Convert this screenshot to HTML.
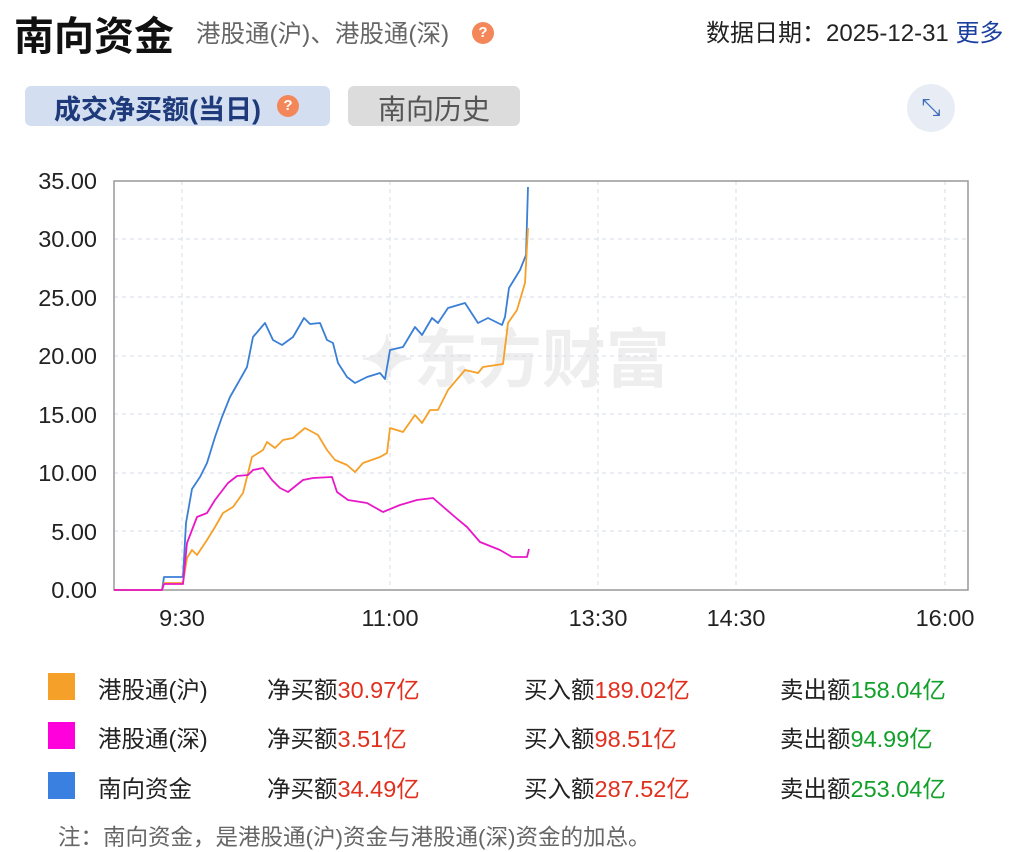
<!DOCTYPE html>
<html><head><meta charset="utf-8"><style>
body{margin:0;width:1028px;height:848px;background:#fff;font-family:"Liberation Sans","Noto Sans CJK SC",sans-serif;position:relative;overflow:hidden;color:#222}
.a{position:absolute;white-space:nowrap}
.r{color:#e0301e}.g{color:#12a02a}
</style></head><body>
<div class="a" style="left:14px;top:4px;font-size:40px;font-weight:bold;color:#111">南向资金</div>
<div class="a" style="left:196px;top:15px;font-size:24.5px;color:#666">港股通(沪)、港股通(深)</div>
<div class="a" style="left:472px;top:22px;width:22px;height:22px;border-radius:50%;background:#f4875a;color:#fff;font-size:15px;text-align:center;line-height:22px;font-weight:bold">?</div>
<div class="a" style="left:706px;top:13px;font-size:24px;color:#222">数据日期：2025-12-31 <span style="color:#1a3f9c">更多</span></div>
<div class="a" style="left:25px;top:86px;width:305px;height:40px;border-radius:6px;background:#d3dff0"></div>
<div class="a" style="left:54px;top:88px;font-size:27px;font-weight:bold;color:#1e3a7a">成交净买额(当日)</div>
<div class="a" style="left:277px;top:95px;width:22px;height:22px;border-radius:50%;background:#f4875a;color:#fff;font-size:15px;text-align:center;line-height:22px;font-weight:bold">?</div>
<div class="a" style="left:348px;top:86px;width:172px;height:40px;border-radius:6px;background:#dcdcdc"></div>
<div class="a" style="left:378px;top:88px;font-size:28px;color:#555">南向历史</div>
<div class="a" style="left:907px;top:84px;width:48px;height:48px;border-radius:50%;background:#e8edf5;color:#3d6cb8;font-size:24px;text-align:center;line-height:48px">⤡</div>
<svg class="a" style="left:0;top:0" width="1028" height="660">
<text x="515" y="382" font-size="64" font-weight="bold" fill="#eeeeee" text-anchor="middle" font-family="Liberation Sans,Noto Sans CJK SC,sans-serif">✦东方财富</text>
<g stroke="#d5dde6" stroke-dasharray="4,4" stroke-width="1">
<line x1="114" x2="968" y1="239" y2="239"/><line x1="114" x2="968" y1="297" y2="297"/><line x1="114" x2="968" y1="356" y2="356"/><line x1="114" x2="968" y1="414" y2="414"/><line x1="114" x2="968" y1="473" y2="473"/><line x1="114" x2="968" y1="531" y2="531"/>
<line x1="182" x2="182" y1="181" y2="590"/><line x1="390" x2="390" y1="181" y2="590"/><line x1="598" x2="598" y1="181" y2="590"/><line x1="736" x2="736" y1="181" y2="590"/><line x1="945" x2="945" y1="181" y2="590"/>
</g>
<rect x="114" y="181" width="854" height="409" fill="none" stroke="#999" stroke-width="1.5"/>
<g font-size="23.5" fill="#222" text-anchor="end">
<text x="97" y="189">35.00</text><text x="97" y="247">30.00</text><text x="97" y="306">25.00</text><text x="97" y="364">20.00</text><text x="97" y="423">15.00</text><text x="97" y="481">10.00</text><text x="97" y="540">5.00</text><text x="97" y="598">0.00</text>
</g>
<g font-size="23.5" fill="#222" text-anchor="middle">
<text x="182" y="626">9:30</text><text x="390" y="626">11:00</text><text x="598" y="626">13:30</text><text x="736" y="626">14:30</text><text x="945" y="626">16:00</text>
</g>
<g fill="none" stroke-width="1.8" stroke-linejoin="round">
<polyline stroke="#3a7fd5" points="114,590 162,590 164,577 183,577 186,523 192,489 200,477 207,463 215,437 222,417 230,397 238,383 247,367 253,337 265,323 273,340 282,345 293,337 304,318 310,324 320,323 327,340 333,343 338,363 347,377 355,383 367,377 380,373 385,379 390,350 403,347 415,327 422,335 432,318 438,323 448,308 465,303 478,323 488,318 502,325 505,317 509,288 520,270 526,255 528,187"/>
<polyline stroke="#f5a028" points="114,590 162,590 164,583 183,583 187,558 192,550 197,555 207,540 215,527 223,513 233,507 243,493 252,457 263,450 267,442 275,448 283,440 293,438 305,428 318,435 327,450 335,460 347,465 355,472 363,463 380,457 387,453 390,428 403,432 415,415 422,423 430,410 438,410 448,390 465,370 478,373 483,367 503,364 508,323 517,310 525,283 528,228"/>
<polyline stroke="#e817c8" points="114,590 162,590 164,584 183,584 187,543 197,517 207,513 215,500 228,483 237,476 248,475 253,470 263,468 272,480 280,488 288,492 303,480 313,478 332,477 337,492 348,500 367,503 383,512 400,505 417,500 433,498 455,517 467,527 480,542 500,550 512,557 527,557 529,549"/>
</g>
</svg>
<div class="a" style="left:48px;top:673px;width:27px;height:27px;background:#f5a028"></div>
<div class="a" style="left:48px;top:722px;width:27px;height:27px;background:#ff00dc"></div>
<div class="a" style="left:48px;top:772px;width:27px;height:27px;background:#3a80e0"></div>
<div style="font-size:23.5px">
<div class="a" style="left:98px;top:671px">港股通(沪)</div>
<div class="a" style="left:267px;top:671px">净买额<span class="r">30.97亿</span></div>
<div class="a" style="left:524px;top:671px">买入额<span class="r">189.02亿</span></div>
<div class="a" style="left:780px;top:671px">卖出额<span class="g">158.04亿</span></div>
<div class="a" style="left:98px;top:720px">港股通(深)</div>
<div class="a" style="left:267px;top:720px">净买额<span class="r">3.51亿</span></div>
<div class="a" style="left:524px;top:720px">买入额<span class="r">98.51亿</span></div>
<div class="a" style="left:780px;top:720px">卖出额<span class="g">94.99亿</span></div>
<div class="a" style="left:98px;top:770px">南向资金</div>
<div class="a" style="left:267px;top:770px">净买额<span class="r">34.49亿</span></div>
<div class="a" style="left:524px;top:770px">买入额<span class="r">287.52亿</span></div>
<div class="a" style="left:780px;top:770px">卖出额<span class="g">253.04亿</span></div>
</div>
<div class="a" style="left:58px;top:820px;font-size:22.5px;color:#666">注：南向资金，是港股通(沪)资金与港股通(深)资金的加总。</div>
</body></html>
